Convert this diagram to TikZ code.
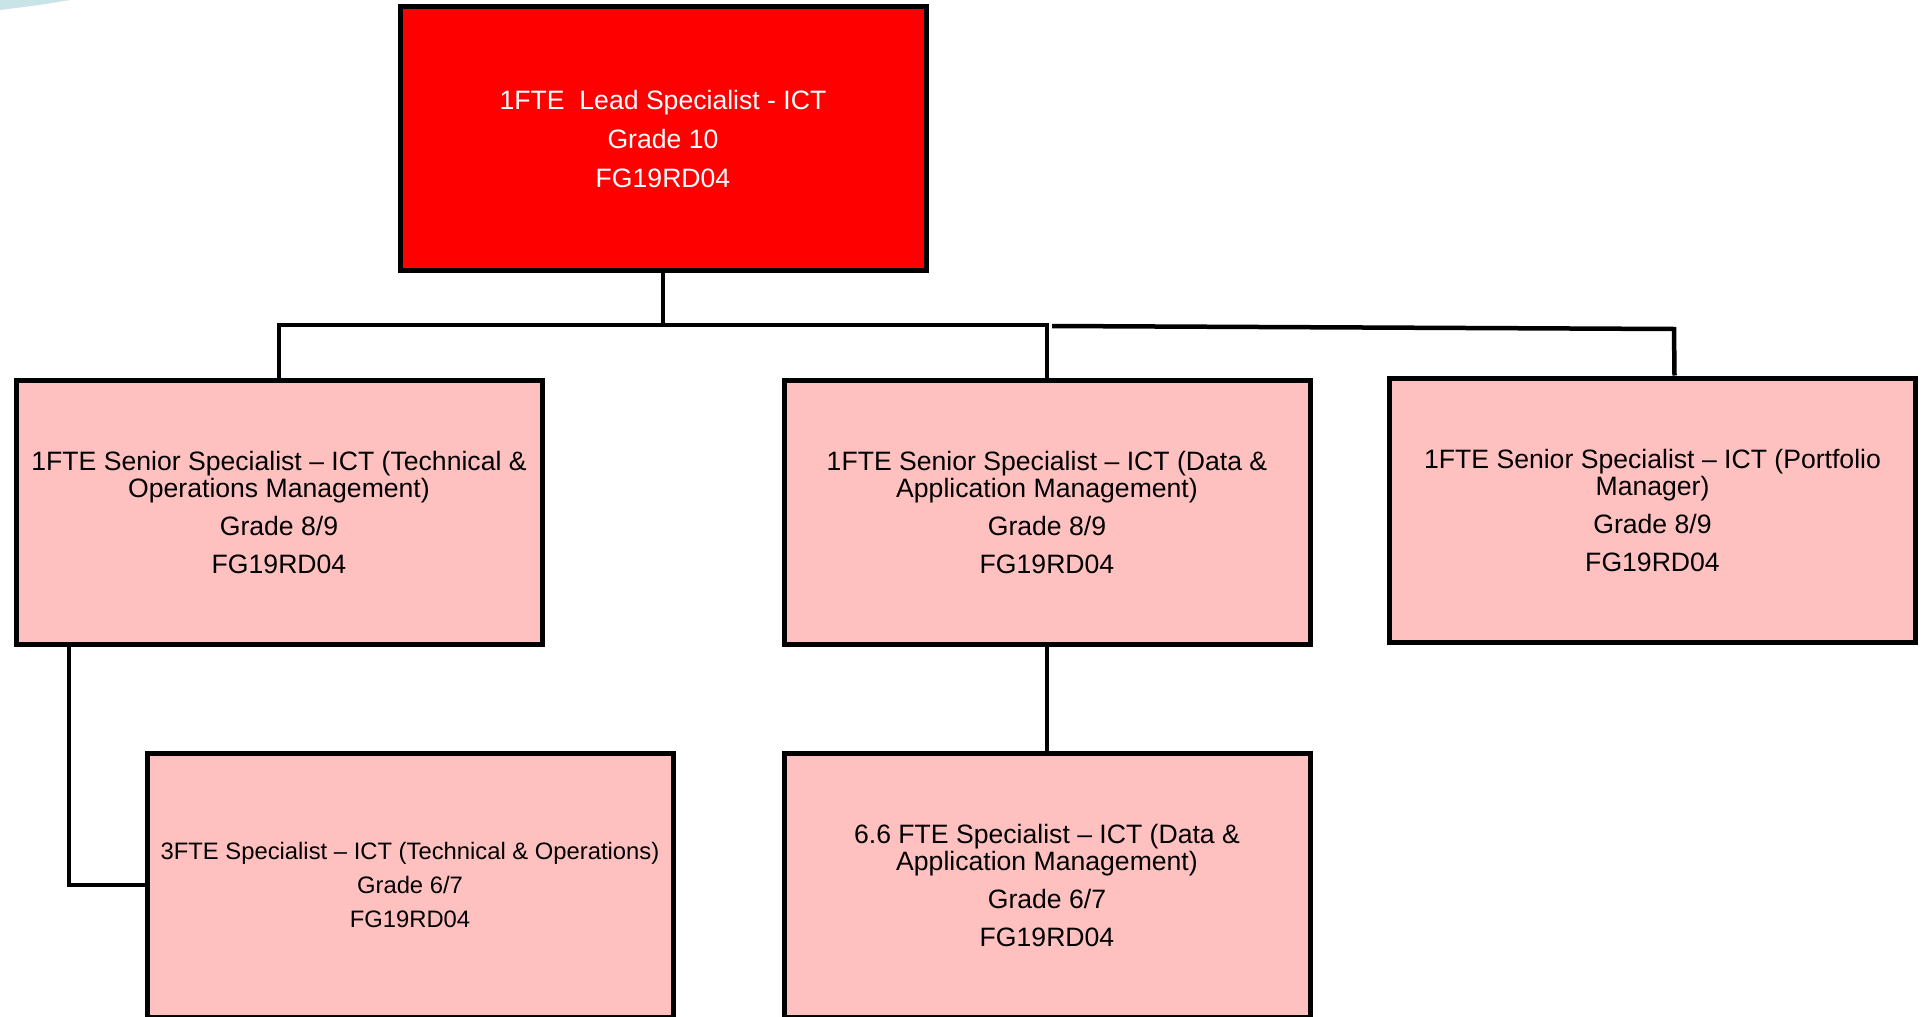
\documentclass[tikz,border=0pt]{standalone}
\usepackage{fontspec}
\setmainfont{Liberation Sans}
\definecolor{leadred}{RGB}{255,0,0}
\definecolor{pinkbox}{RGB}{255,192,192}
\definecolor{swoosh}{RGB}{200,228,230}
\begin{document}
\begin{tikzpicture}[x=1pt,y=-1pt,
  box/.style={draw=black,line width=5pt,rectangle,minimum width=526pt,minimum height=264pt,
    inner sep=0pt,align=center,font=\fontsize{26.6pt}{27pt}\selectfont},
  leadbox/.style={box,fill=leadred,text=white},
  subbox/.style={box,fill=pinkbox,text=black},
  smallbox/.style={subbox,font=\fontsize{23.8pt}{34pt}\selectfont},
  conn/.style={draw=black,line width=4.5pt}]
\useasboundingbox (0,0) rectangle (1923,1017);
\fill[swoosh] (0,0) -- (70,0) .. controls (40,5) .. (0,10) -- cycle;

\node[leadbox] (lead) at (663,138.5) {1FTE\ \ Lead Specialist - ICT\\[12pt]Grade 10\\[12pt]FG19RD04};
\node[subbox] (tech) at (279,512) {1FTE Senior Specialist – ICT (Technical \&\\Operations Management)\\[11pt]Grade 8/9\\[11pt]FG19RD04};
\node[subbox] (data) at (1047,512) {1FTE Senior Specialist – ICT (Data \&\\Application Management)\\[11pt]Grade 8/9\\[11pt]FG19RD04};
\node[subbox] (port) at (1652.5,510) {1FTE Senior Specialist – ICT (Portfolio\\Manager)\\[11pt]Grade 8/9\\[11pt]FG19RD04};
\node[smallbox] (techops) at (410,885) {3FTE Specialist – ICT (Technical \& Operations)\\Grade 6/7\\FG19RD04};
\node[subbox] (dataspec) at (1047,885) {6.6 FTE Specialist – ICT (Data \&\\Application Management)\\[11pt]Grade 6/7\\[11pt]FG19RD04};

\coordinate (bus) at (663,325);
\coordinate (rbstart) at (1052,326);
\coordinate (rbcorner) at (1674,329);

\draw[conn] (lead.south) -- (bus);
\draw[conn] (tech.north) |- (bus) -| (data.north);
\draw[conn] (rbstart) -- (rbcorner) -- ([xshift=22pt]port.north);
\draw[conn] ([xshift=-210pt]tech.south) |- (techops.west);
\draw[conn] (data.south) -- (dataspec.north);
\end{tikzpicture}
\end{document}
